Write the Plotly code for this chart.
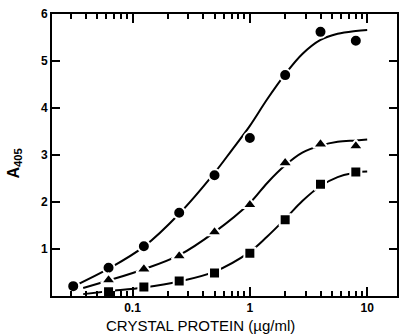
import plotly.graph_objects as go

# Measured data (two-fold dilution series, µg/ml)
conc = [0.03125, 0.0625, 0.125, 0.25, 0.5, 1, 2, 4, 8]
circle_y = [0.21, 0.60, 1.06, 1.77, 2.57, 3.36, 4.70, 5.62, 5.43]
tri_x = [0.0625, 0.125, 0.25, 0.5, 1, 2, 4, 8]
tri_y = [0.34, 0.57, 0.85, 1.36, 1.94, 2.83, 3.23, 3.19]
sq_x = [0.0625, 0.125, 0.25, 0.5, 1, 2, 4, 8]
sq_y = [0.09, 0.19, 0.32, 0.49, 0.91, 1.62, 2.38, 2.64]

# Fitted curves
curve_c_x = [0.03125, 0.0625, 0.125, 0.25, 0.5, 0.7, 1, 1.4, 2, 2.8, 4, 5.6, 8, 10]
curve_c_y = [0.20, 0.58, 1.05, 1.75, 2.62, 3.10, 3.62, 4.18, 4.72, 5.15, 5.45, 5.58, 5.64, 5.66]
curve_t_x = [0.038, 0.0625, 0.125, 0.25, 0.5, 1, 1.4, 2, 2.8, 4, 5.6, 8, 10]
curve_t_y = [0.17, 0.33, 0.57, 0.87, 1.36, 1.98, 2.40, 2.78, 3.05, 3.20, 3.28, 3.31, 3.33]
curve_s_x = [0.038, 0.0625, 0.125, 0.25, 0.5, 1, 1.4, 2, 2.8, 4, 5.6, 8, 10]
curve_s_y = [0.04, 0.10, 0.18, 0.31, 0.52, 0.94, 1.26, 1.64, 2.02, 2.34, 2.53, 2.63, 2.65]

major_x = [0.1, 1, 10]
major_x_text = ["0.1", "1", "10"]
minor_x = [0.02, 0.03, 0.04, 0.05, 0.06, 0.07, 0.08, 0.09,
           0.2, 0.3, 0.4, 0.5, 0.6, 0.7, 0.8, 0.9,
           2, 3, 4, 5, 6, 7, 8, 9]
y_ticks = [1, 2, 3, 4, 5, 6]

fig = go.Figure()
for cx, cy in [(curve_c_x, curve_c_y), (curve_t_x, curve_t_y), (curve_s_x, curve_s_y)]:
    fig.add_trace(go.Scatter(x=cx, y=cy, mode="lines",
                             line=dict(color="black", width=2, shape="spline", smoothing=1.0),
                             showlegend=False, hoverinfo="skip"))

mk_line = dict(color="white", width=2)
fig.add_trace(go.Scatter(x=conc, y=circle_y, mode="markers",
                         marker=dict(symbol="circle", size=12, color="black", line=mk_line),
                         showlegend=False))
fig.add_trace(go.Scatter(x=tri_x, y=tri_y, mode="markers",
                         marker=dict(symbol="triangle-up", size=13, color="black", line=mk_line),
                         showlegend=False))
fig.add_trace(go.Scatter(x=sq_x, y=sq_y, mode="markers",
                         marker=dict(symbol="square", size=11, color="black", line=mk_line),
                         showlegend=False))

font = dict(family="Liberation Sans, Arial, sans-serif", color="black")
bold = dict(weight="bold", **font)
fig.update_layout(
    width=401, height=336,
    margin=dict(l=52, r=2, t=14, b=40),
    paper_bgcolor="white", plot_bgcolor="white",
    font=dict(size=11, **font),
    xaxis=dict(type="log", range=[-1.686, 1.254],
               tickmode="array", tickvals=major_x, ticktext=major_x_text,
               ticks="inside", ticklen=9, tickwidth=2, tickcolor="black",
               showline=True, linewidth=2, linecolor="black", mirror="ticks",
               showgrid=False, zeroline=False,
               tickfont=dict(size=12, **bold),
               minor=dict(tickmode="array", tickvals=minor_x, ticks="inside",
                          ticklen=5, tickwidth=1.5, tickcolor="black", showgrid=False)),
    yaxis=dict(range=[0, 6], tickmode="array", tickvals=y_ticks,
               ticks="inside", ticklen=8, tickwidth=2, tickcolor="black",
               showline=True, linewidth=2, linecolor="black", mirror="ticks",
               showgrid=False, zeroline=False,
               tickfont=dict(size=12, **bold)),
    annotations=[
        dict(text="CRYSTAL PROTEIN (µg/ml)", x=0.43, y=-0.103, xref="paper", yref="paper",
             xanchor="center", yanchor="middle", showarrow=False, font=dict(size=15, **font)),
        dict(text="A<sub>405</sub>", x=-0.11, y=0.47, xref="paper", yref="paper",
             xanchor="center", yanchor="middle", textangle=-90, showarrow=False,
             font=dict(size=16, **bold)),
    ],
)
fig.write_html("out.html")
